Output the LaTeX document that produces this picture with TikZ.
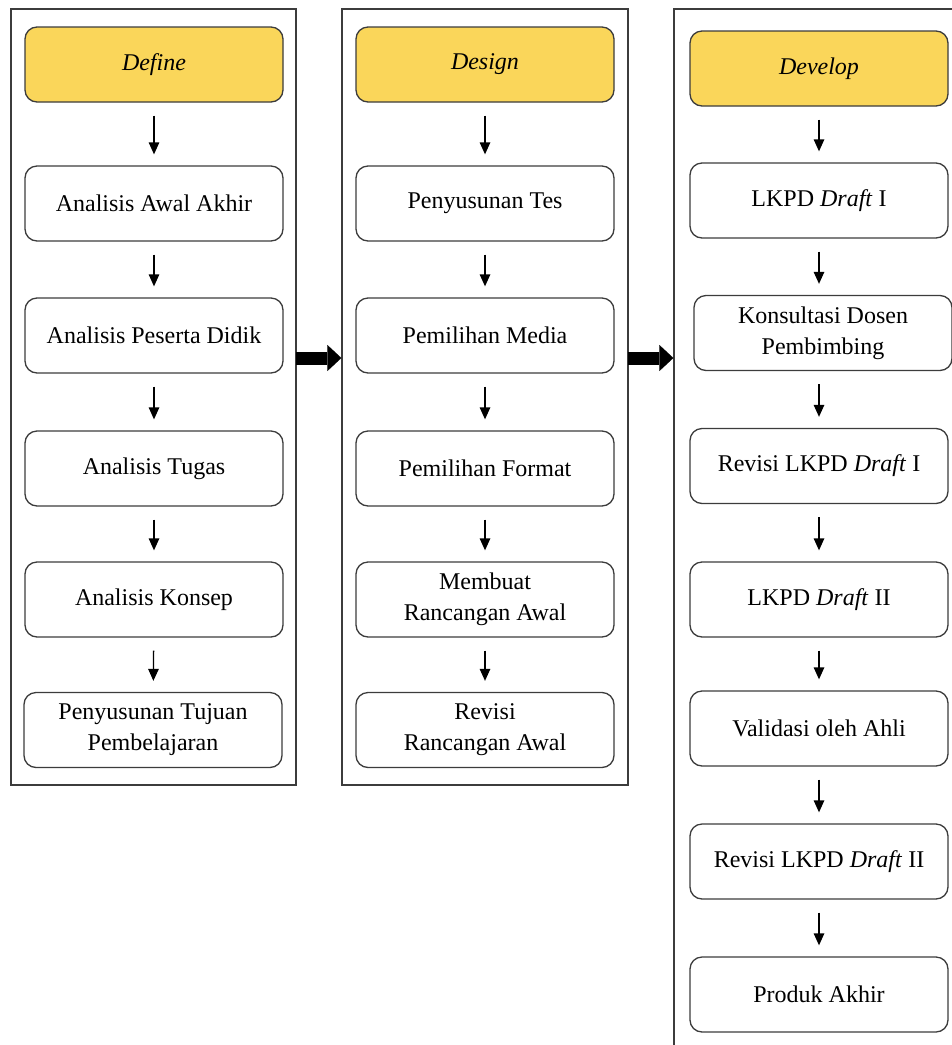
\documentclass[tikz,border=0pt]{standalone}
\usepackage{fontspec}
\setmainfont{Liberation Serif}
\usepackage{tikz}
\usetikzlibrary{%
  positioning
 ,arrows.meta
 ,calc
}
\definecolor{headgold}{RGB}{250,214,90}
\definecolor{rimgray}{RGB}{60,60,60}
\tikzstyle{panel}=[rectangle,draw=rimgray,line width=1.3pt,inner sep=0pt]
\tikzstyle{stp}=[rectangle,rounded corners=12pt,draw=rimgray,line width=1.3pt,fill=white,
  minimum width=258pt,minimum height=75pt,align=center,inner sep=2pt,
  font=\fontsize{24}{31}\selectfont]
\tikzstyle{head}=[stp,fill=headgold]
\tikzstyle{flow}=[-{Triangle[length=12pt,width=10.5pt]},line width=1.3pt,shorten <=13pt,shorten >=11pt]
\tikzstyle{bigarrow}=[line width=13pt,-{Triangle[length=14pt,width=26pt,line width=0.1pt]}]

\begin{document}
\begin{tikzpicture}[x=1pt,y=-1pt]
      \useasboundingbox (0,0) rectangle (952,1045);
      % panels
      \node[panel,minimum width=285pt,minimum height=776pt] (p_1) at (153.5,397) {};
      \node[panel,minimum width=286pt,minimum height=776pt] (p_2) at (485,397) {};
      \node[panel,minimum width=300pt,minimum height=1060pt] (p_3) at (824,539) {};
      % define
      \node[head] (df_0) at (154,64.5) {\textit{Define}};
      \node[stp]  (df_1) at (154,203.5) {Analisis Awal Akhir};
      \node[stp]  (df_2) at (154,335.5) {Analisis Peserta Didik};
      \node[stp]  (df_3) at (154,468.5) {Analisis Tugas};
      \node[stp]  (df_4) at (154,599.5) {Analisis Konsep};
      \node[stp]  (df_5) at (153,730) {Penyusunan Tujuan\\Pembelajaran};
      % design
      \node[head] (ds_0) at (485,64.5) {\textit{Design}};
      \node[stp]  (ds_1) at (485,203.5) {Penyusunan Tes};
      \node[stp]  (ds_2) at (485,335.5) {Pemilihan Media};
      \node[stp]  (ds_3) at (485,468.5) {Pemilihan Format};
      \node[stp]  (ds_4) at (485,599.5) {Membuat\\Rancangan Awal};
      \node[stp]  (ds_5) at (485,730) {Revisi\\Rancangan Awal};
      % develop
      \node[head] (dv_0) at (819,68.5) {\textit{Develop}};
      \node[stp]  (dv_1) at (819,200.5) {LKPD \textit{Draft} I};
      \node[stp]  (dv_2) at (823,333) {Konsultasi Dosen\\Pembimbing};
      \node[stp]  (dv_3) at (819,466) {Revisi LKPD \textit{Draft} I};
      \node[stp]  (dv_4) at (819,599.5) {LKPD \textit{Draft} II};
      \node[stp]  (dv_5) at (819,728.5) {Validasi oleh Ahli};
      \node[stp]  (dv_6) at (819,861.5) {Revisi LKPD \textit{Draft} II};
      \node[stp]  (dv_7) at (819,994.5) {Produk Akhir};
      \path[flow]
        (df_0) edge (df_1)
        (df_1) edge (df_2)
        (df_2) edge (df_3)
        (df_3) edge (df_4)
        (df_4) edge (df_5)
        (ds_0) edge (ds_1)
        (ds_1) edge (ds_2)
        (ds_2) edge (ds_3)
        (ds_3) edge (ds_4)
        (ds_4) edge (ds_5)
        (dv_0) edge (dv_1)
        (dv_1) edge (dv_1 |- dv_2.north)
        (dv_3 |- dv_2.south) edge (dv_3)
        (dv_3) edge (dv_4)
        (dv_4) edge (dv_5)
        (dv_5) edge (dv_6)
        (dv_6) edge (dv_7);
      % between panels
      \coordinate (a_1) at (296,358);
      \coordinate (a_2) at (628,358);
      \draw[bigarrow] (a_1) -- (a_1 -| p_2.west);
      \draw[bigarrow] (a_2) -- (a_2 -| p_3.west);
    \end{tikzpicture}
\end{document}
